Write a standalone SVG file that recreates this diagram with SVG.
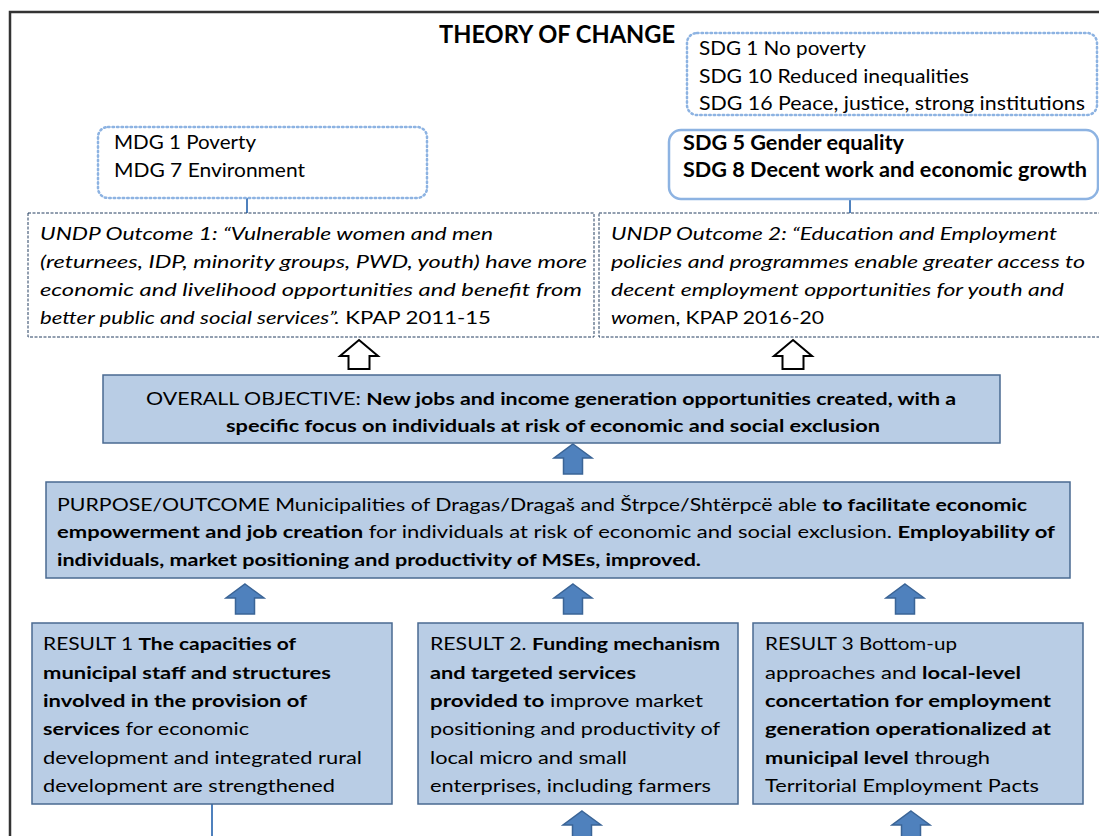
<svg xmlns="http://www.w3.org/2000/svg" width="1099" height="836" viewBox="0 0 1099 836">
<style>
.t{font-family:Lato,"Liberation Sans",sans-serif;fill:#000}
.b{font-weight:bold}
.i{font-style:italic}
.n{font-style:normal}
.dot{fill:#fff;stroke:#8DB3E2;stroke-width:2.5;stroke-dasharray:1.5 3;stroke-linecap:round}
.sol{fill:#fff;stroke:#8DB3E2;stroke-width:2.5}
.dash{fill:#fff;stroke:#243F60;stroke-width:1;stroke-dasharray:3 1.5}
.blue{fill:#B9CDE5;stroke:#4A6A91;stroke-width:1.5}
.conn{stroke:#4F81BD;stroke-width:2;fill:none}
.hollow{fill:#fff;stroke:#000;stroke-width:2;stroke-linejoin:miter}
.barrow{fill:#4F81BD;stroke:#3A6496;stroke-width:1.5}
</style>
<defs>
<path id="ha" d="M0 0 L19 16 L10.5 16 L10.5 29 L-10.5 29 L-10.5 16 L-19 16 Z"/>
<path id="ba" d="M0 0 L19 14 L9.5 14 L9.5 30 L-9.5 30 L-9.5 14 L-19 14 Z"/>
</defs>
<rect width="1099" height="836" fill="#fff"/>
<path d="M10 836 V12 H1099" fill="none" stroke="#333" stroke-width="2.5"/>
<text id="title" class="t b" x="439" y="43" font-size="24" textLength="236" lengthAdjust="spacingAndGlyphs">THEORY OF CHANGE</text>

<g id="connectors">
<line class="conn" x1="247" y1="198" x2="247" y2="213"/>
<line class="conn" x1="850" y1="199" x2="850" y2="213"/>
<use href="#ha" class="hollow" x="359" y="340"/>
<use href="#ha" class="hollow" x="793" y="340"/>
<use href="#ba" class="barrow" x="573" y="444"/>
<use href="#ba" class="barrow" x="245" y="584"/>
<use href="#ba" class="barrow" x="573" y="584"/>
<use href="#ba" class="barrow" x="905" y="584"/>
<line class="conn" x1="212" y1="804" x2="212" y2="836"/>
<use href="#ba" class="barrow" x="582" y="811"/>
<use href="#ba" class="barrow" x="911" y="811"/>
</g>

<g id="sdg-other">
<rect class="dot" x="687" y="33" width="410" height="82" rx="10"/>
<text class="t" font-size="20" x="699" y="55" textLength="167" lengthAdjust="spacingAndGlyphs">SDG 1 No poverty</text>
<text class="t" font-size="20" x="699" y="83" textLength="270" lengthAdjust="spacingAndGlyphs">SDG 10 Reduced inequalities</text>
<text class="t" font-size="20" x="699" y="110" textLength="386" lengthAdjust="spacingAndGlyphs">SDG 16 Peace, justice, strong institutions</text>
</g>

<g id="sdg-main">
<rect class="sol" x="669" y="130" width="429" height="69" rx="12"/>
<text class="t b" font-size="20" x="683" y="150" textLength="221" lengthAdjust="spacingAndGlyphs">SDG 5 Gender equality</text>
<text class="t b" font-size="20" x="683" y="177" textLength="404" lengthAdjust="spacingAndGlyphs">SDG 8 Decent work and economic growth</text>
</g>

<g id="mdg">
<rect class="dot" x="98" y="127" width="329" height="71" rx="10"/>
<text class="t" font-size="20" x="114" y="149" textLength="142" lengthAdjust="spacingAndGlyphs">MDG 1 Poverty</text>
<text class="t" font-size="20" x="114" y="177" textLength="191" lengthAdjust="spacingAndGlyphs">MDG 7 Environment</text>
</g>

<g id="outcome1">
<rect class="dash" x="28" y="213" width="566" height="124"/>
<text class="t i" font-size="18" x="40" y="240" textLength="453" lengthAdjust="spacingAndGlyphs">UNDP Outcome 1: “Vulnerable women and men</text>
<text class="t i" font-size="18" x="40" y="268" textLength="547" lengthAdjust="spacingAndGlyphs">(returnees, IDP, minority groups, PWD, youth) have more</text>
<text class="t i" font-size="18" x="40" y="296" textLength="542" lengthAdjust="spacingAndGlyphs">economic and livelihood opportunities and benefit from</text>
<text class="t i" font-size="18" x="40" y="324" textLength="451" lengthAdjust="spacingAndGlyphs">better public and social services”.<tspan class="n"> KPAP 2011-15</tspan></text>
</g>

<g id="outcome2">
<rect class="dash" x="599" y="213" width="510" height="124"/>
<text class="t i" font-size="18" x="611" y="240" textLength="446" lengthAdjust="spacingAndGlyphs">UNDP Outcome 2: “Education and Employment</text>
<text class="t i" font-size="18" x="611" y="268" textLength="474" lengthAdjust="spacingAndGlyphs">policies and programmes enable greater access to</text>
<text class="t i" font-size="18" x="611" y="296" textLength="453" lengthAdjust="spacingAndGlyphs">decent employment opportunities for youth and</text>
<text class="t i" font-size="18" x="611" y="324" textLength="213" lengthAdjust="spacingAndGlyphs">wome<tspan class="n">n, KPAP 2016-20</tspan></text>
</g>

<g id="overall-objective">
<rect class="blue" x="103" y="375" width="897" height="68"/>
<text class="t" font-size="17" x="551" y="405" text-anchor="middle" textLength="810" lengthAdjust="spacingAndGlyphs">OVERALL OBJECTIVE: <tspan class="b">New jobs and income generation opportunities created, with a</tspan></text>
<text class="t b" font-size="17" x="553" y="432" text-anchor="middle" textLength="654" lengthAdjust="spacingAndGlyphs">specific focus on individuals at risk of economic and social exclusion</text>
</g>

<g id="purpose">
<rect class="blue" x="46" y="482" width="1024" height="96"/>
<text class="t" font-size="17" x="57" y="511" textLength="970" lengthAdjust="spacingAndGlyphs">PURPOSE/OUTCOME Municipalities of Dragas/Dragaš and Štrpce/Shtërpcë able <tspan class="b">to facilitate economic</tspan></text>
<text class="t" font-size="17" x="57" y="538" textLength="998" lengthAdjust="spacingAndGlyphs"><tspan class="b">empowerment and job creation</tspan> for individuals at risk of economic and social exclusion. <tspan class="b">Employability of</tspan></text>
<text class="t b" font-size="17" x="57" y="566" textLength="644" lengthAdjust="spacingAndGlyphs">individuals, market positioning and productivity of MSEs, improved.</text>
</g>

<g id="result1">
<rect class="blue" x="32" y="623" width="360" height="181"/>
<text class="t" font-size="17" x="43" y="650" textLength="253" lengthAdjust="spacingAndGlyphs">RESULT 1 <tspan class="b">The capacities of</tspan></text>
<text class="t b" font-size="17" x="43" y="679" textLength="288" lengthAdjust="spacingAndGlyphs">municipal staff and structures</text>
<text class="t b" font-size="17" x="43" y="707" textLength="264" lengthAdjust="spacingAndGlyphs">involved in the provision of</text>
<text class="t" font-size="17" x="43" y="735" textLength="206" lengthAdjust="spacingAndGlyphs"><tspan class="b">services</tspan> for economic</text>
<text class="t" font-size="17" x="43" y="764" textLength="319" lengthAdjust="spacingAndGlyphs">development and integrated rural</text>
<text class="t" font-size="17" x="43" y="792" textLength="292" lengthAdjust="spacingAndGlyphs">development are strengthened</text>
</g>

<g id="result2">
<rect class="blue" x="418" y="623" width="320" height="181"/>
<text class="t" font-size="17" x="430" y="650" textLength="290" lengthAdjust="spacingAndGlyphs">RESULT 2. <tspan class="b">Funding mechanism</tspan></text>
<text class="t b" font-size="17" x="430" y="679" textLength="206" lengthAdjust="spacingAndGlyphs">and targeted services</text>
<text class="t" font-size="17" x="430" y="707" textLength="273" lengthAdjust="spacingAndGlyphs"><tspan class="b">provided to</tspan> improve  market</text>
<text class="t" font-size="17" x="430" y="735" textLength="290" lengthAdjust="spacingAndGlyphs">positioning and productivity of</text>
<text class="t" font-size="17" x="430" y="764" textLength="197" lengthAdjust="spacingAndGlyphs">local micro and small</text>
<text class="t" font-size="17" x="430" y="792" textLength="281" lengthAdjust="spacingAndGlyphs">enterprises, including farmers</text>
</g>

<g id="result3">
<rect class="blue" x="753" y="623" width="330" height="181"/>
<text class="t" font-size="17" x="765" y="650" textLength="192" lengthAdjust="spacingAndGlyphs">RESULT 3 Bottom-up</text>
<text class="t" font-size="17" x="765" y="679" textLength="256" lengthAdjust="spacingAndGlyphs">approaches and <tspan class="b">local-level</tspan></text>
<text class="t b" font-size="17" x="765" y="707" textLength="286" lengthAdjust="spacingAndGlyphs">concertation for employment</text>
<text class="t b" font-size="17" x="765" y="735" textLength="286" lengthAdjust="spacingAndGlyphs">generation operationalized at</text>
<text class="t" font-size="17" x="765" y="764" textLength="225" lengthAdjust="spacingAndGlyphs"><tspan class="b">municipal level</tspan> through</text>
<text class="t" font-size="17" x="765" y="792" textLength="274" lengthAdjust="spacingAndGlyphs">Territorial Employment Pacts</text>
</g>
</svg>
